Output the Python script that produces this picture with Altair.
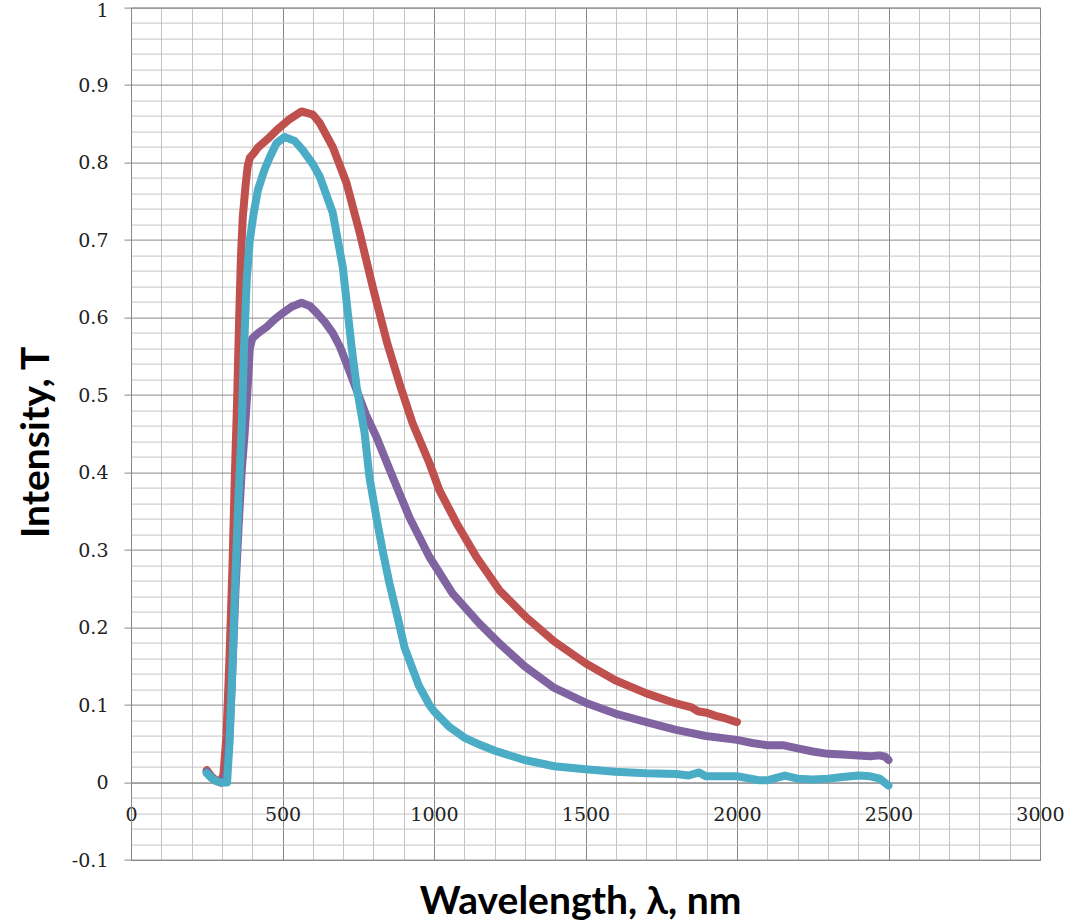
import altair as alt
import pandas as pd

# ---- data ----
series_names = ["Series 1", "Series 2", "Series 3"]
series_colors = ["#C0504D", "#8064A2", "#4BACC6"]

red_x = [250, 265, 280, 295, 305, 315, 325, 335, 343, 350, 357, 363, 369, 378, 385, 392, 405, 418,
         450, 481, 520, 563, 600, 623, 666, 711, 755, 800, 847, 886, 929, 985, 1018, 1074, 1140,
         1216, 1305, 1397, 1500, 1598, 1701, 1799, 1850, 1870, 1900, 1930, 1960, 2000]
red_y = [0.016, 0.008, 0.003, 0.0, 0.01, 0.06, 0.16, 0.28, 0.40, 0.49, 0.60, 0.68, 0.73, 0.77, 0.795,
         0.806, 0.812, 0.819, 0.83, 0.842, 0.855, 0.866, 0.862, 0.851, 0.82, 0.774, 0.709, 0.636,
         0.565, 0.515, 0.464, 0.412, 0.377, 0.335, 0.291, 0.248, 0.213, 0.182, 0.154, 0.132, 0.115,
         0.102, 0.097, 0.092, 0.090, 0.086, 0.083, 0.078]

purple_x = [250, 265, 280, 300, 315, 325, 335, 345, 355, 365, 375, 385, 392, 400, 420, 448, 475, 501,
            530, 563, 590, 613, 640, 666, 690, 711, 745, 775, 810, 864, 919, 985, 1061, 1150, 1220,
            1299, 1397, 1500, 1598, 1701, 1799, 1897, 2000, 2050, 2100, 2155, 2200, 2250, 2300,
            2350, 2400, 2440, 2471, 2490, 2500]
purple_y = [0.014, 0.007, 0.002, 0.0, 0.01, 0.06, 0.15, 0.25, 0.33, 0.40, 0.45, 0.51, 0.56, 0.573,
            0.58, 0.588, 0.598, 0.606, 0.614, 0.619, 0.615, 0.606, 0.594, 0.58, 0.562, 0.541, 0.506,
            0.475, 0.446, 0.394, 0.342, 0.291, 0.244, 0.205, 0.178, 0.150, 0.122, 0.103, 0.089,
            0.078, 0.068, 0.060, 0.055, 0.051, 0.048, 0.048, 0.044, 0.040, 0.037, 0.036, 0.035,
            0.034, 0.035, 0.033, 0.029]

cyan_x = [250, 265, 280, 297, 317, 325, 335, 345, 355, 365, 373, 382, 392, 405, 419, 440, 458, 480,
          507, 540, 567, 600, 623, 666, 699, 728, 745, 771, 787, 810, 830, 853, 880, 903, 950, 985,
          1000, 1050, 1100, 1150, 1201, 1299, 1397, 1500, 1598, 1701, 1799, 1840, 1875, 1897, 2000,
          2071, 2103, 2130, 2158, 2200, 2250, 2300, 2350, 2400, 2440, 2471, 2500]
cyan_y = [0.012, 0.006, 0.002, 0.0, 0.0, 0.05, 0.15, 0.27, 0.37, 0.455, 0.56, 0.649, 0.70, 0.735,
          0.765, 0.79, 0.807, 0.825, 0.833, 0.828, 0.816, 0.798, 0.782, 0.735, 0.665, 0.562, 0.51,
          0.451, 0.394, 0.342, 0.30, 0.257, 0.213, 0.174, 0.125, 0.10, 0.092, 0.072, 0.058, 0.049,
          0.041, 0.029, 0.021, 0.017, 0.014, 0.012, 0.011, 0.009, 0.013, 0.008, 0.008, 0.003,
          0.003, 0.006, 0.009, 0.005, 0.004, 0.005, 0.007, 0.009, 0.008, 0.005, -0.004]

x_ticks = list(range(0, 3001, 100))
y_ticks = [round(-0.1 + 0.02 * i, 2) for i in range(56)]

rows = []
for name, xs, ys in zip(series_names, [red_x, purple_x, cyan_x], [red_y, purple_y, cyan_y]):
    for xv, yv in zip(xs, ys):
        rows.append({"series": name, "wavelength": xv, "intensity": yv})
df = pd.DataFrame(rows)

# ---- layout ----
P_LEFT, P_TOP, P_RIGHT, P_BOTTOM = 131, 7.6, 37, 63
W = 1077 - P_LEFT - P_RIGHT
H = 923 - P_TOP - P_BOTTOM
Y_MIN, Y_MAX = -0.1, 1.0
x_axis_offset = -H * (0 - Y_MIN) / (Y_MAX - Y_MIN)

MAJOR = "#888888"
MINOR = "#c4c4c4"
IS_MAJOR_Y = "abs(datum.value * 10 - round(datum.value * 10)) < 0.001"

x_axis = alt.Axis(
    values=x_ticks,
    offset=x_axis_offset,
    grid=True,
    gridColor={"condition": {"test": "datum.value % 500 === 0", "value": MAJOR}, "value": MINOR},
    gridWidth=1,
    ticks=False,
    tickSize=0,
    domain=True,
    domainColor=MAJOR,
    labelExpr="datum.value % 500 === 0 ? toString(datum.value) : ''",
    labelFont="DejaVu Serif",
    labelFontSize=19,
    labelColor="#222222",
    labelPadding=23,
    labelFlush=False,
    labelOverlap=False,
    labelBound=False,
    title="Wavelength, λ, nm",
    titleFont="Lato",
    titleFontSize=39,
    titleFontWeight="bold",
    titleColor="#000000",
    titleX=449,
    titleY=(913 - P_TOP) - (H + x_axis_offset),
    titleAlign="center",
    titleBaseline="alphabetic",
)

y_axis = alt.Axis(
    values=y_ticks,
    grid=True,
    gridColor={"condition": {"test": IS_MAJOR_Y, "value": MAJOR}, "value": MINOR},
    gridWidth=1,
    ticks=True,
    tickSize=7,
    tickColor={"condition": {"test": IS_MAJOR_Y, "value": MAJOR}, "value": "transparent"},
    domain=True,
    domainColor=MAJOR,
    labelExpr=IS_MAJOR_Y + " ? toString(round(datum.value * 10) / 10) : ''",
    labelFont="DejaVu Serif",
    labelFontSize=19,
    labelColor="#222222",
    labelPadding=16,
    labelBaseline={"condition": {"test": "datum.value >= 0.999", "value": "top"}, "value": "middle"},
    labelOffset={"condition": {"test": "datum.value >= 0.999", "value": -6}, "value": 0},
    labelFlush=False,
    labelOverlap=False,
    labelBound=False,
    title="Intensity, T",
    titleFont="Lato",
    titleFontSize=39,
    titleFontWeight="bold",
    titleColor="#000000",
    titleAngle=270,
    titleX=48 - P_LEFT,
    titleY=442 - P_TOP,
    titleAlign="center",
    titleBaseline="alphabetic",
)

chart = alt.Chart(df).mark_line(
    strokeWidth=8, strokeCap="round", strokeJoin="round"
).encode(
    x=alt.X("wavelength:Q", scale=alt.Scale(domain=[0, 3000], nice=False, zero=False), axis=x_axis),
    y=alt.Y("intensity:Q", scale=alt.Scale(domain=[Y_MIN, Y_MAX], nice=False, zero=False), axis=y_axis),
    color=alt.Color("series:N", scale=alt.Scale(domain=series_names, range=series_colors), legend=None),
    detail="series:N",
).properties(
    width=W,
    height=H,
    autosize=alt.AutoSizeParams(type="none"),
    padding={"left": P_LEFT, "top": P_TOP, "right": P_RIGHT, "bottom": P_BOTTOM},
    background="white",
).configure_view(
    stroke=MAJOR,
    strokeWidth=1,
)

chart.save("out.html", embed_options={"renderer": "svg", "actions": False})
